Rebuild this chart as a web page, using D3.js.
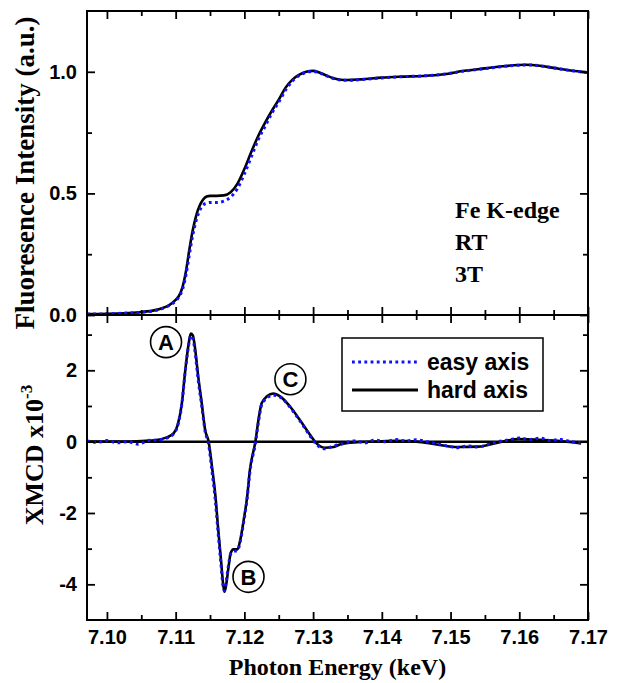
<!DOCTYPE html>
<html>
<head>
    <meta charset="utf-8">
    <title>Fe K-edge XANES / XMCD</title>
    <style>
        body { margin: 0; background: #fff; }
    </style>
</head>
<body>
<div id='plot'></div>
<script src="https://cdn.jsdelivr.net/npm/d3@7"></script>
<script>

    // XANES (upper panel)
    let xasEnergy = [7.0971, 7.100, 7.103, 7.105, 7.107, 7.108, 7.109, 7.110, 7.1105, 7.111, 7.1115, 7.112, 7.1125,
        7.113, 7.1135, 7.114, 7.1145, 7.115, 7.116, 7.117, 7.118, 7.119, 7.120, 7.121, 7.122, 7.123, 7.124, 7.125,
        7.126, 7.127, 7.128, 7.129, 7.130, 7.131, 7.132, 7.133, 7.134, 7.135, 7.137, 7.140, 7.143, 7.146, 7.149,
        7.152, 7.155, 7.158, 7.161, 7.163, 7.165, 7.1675, 7.170];
    let xasHard = [0.004, 0.005, 0.008, 0.012, 0.02, 0.028, 0.04, 0.062, 0.08, 0.115, 0.18, 0.27, 0.35,
        0.41, 0.45, 0.475, 0.487, 0.49, 0.49, 0.492, 0.505, 0.54, 0.6, 0.67, 0.735, 0.79, 0.84, 0.885,
        0.935, 0.968, 0.988, 1.0, 1.004, 0.996, 0.984, 0.973, 0.967, 0.966, 0.969, 0.976, 0.98, 0.983, 0.99,
        1.004, 1.014, 1.024, 1.029, 1.025, 1.016, 1.005, 0.997];
    let xasEasy = [0.004, 0.005, 0.008, 0.011, 0.018, 0.026, 0.038, 0.058, 0.075, 0.105, 0.165, 0.25, 0.33,
        0.39, 0.43, 0.452, 0.46, 0.463, 0.463, 0.468, 0.485, 0.52, 0.58, 0.65, 0.72, 0.775, 0.83, 0.875,
        0.925, 0.962, 0.985, 0.998, 1.002, 0.995, 0.983, 0.972, 0.966, 0.965, 0.968, 0.975, 0.98, 0.983, 0.99,
        1.003, 1.013, 1.023, 1.028, 1.025, 1.016, 1.005, 0.997];

    // XMCD x10^-3 (lower panel)
    let mcdHardEnergy = [7.0971, 7.100, 7.103, 7.105, 7.107, 7.1087, 7.1097, 7.1103, 7.1109, 7.1114, 7.1119, 7.1122,
        7.1125, 7.1128, 7.1133, 7.1138, 7.1143, 7.1148, 7.1153, 7.1158, 7.1162, 7.1166, 7.1169, 7.1171, 7.1173,
        7.1177, 7.118, 7.1184, 7.119, 7.1194, 7.1199, 7.1204, 7.1208, 7.1216, 7.1221, 7.1225, 7.1233, 7.1242,
        7.1252, 7.1267, 7.1281, 7.1296, 7.1305, 7.1317, 7.133, 7.134, 7.136, 7.139, 7.142, 7.145, 7.148, 7.151,
        7.154, 7.157, 7.160, 7.163, 7.166, 7.169];
    let mcdHard = [0.0, 0.0, 0.0, 0.02, 0.04, 0.12, 0.23, 0.47, 1.07, 2.0, 2.75, 3.03,
        2.98, 2.65, 1.8, 1.07, 0.32, 0.0, -0.72, -1.55, -2.48, -3.32, -3.98, -4.21, -4.07,
        -3.51, -3.13, -3.02, -3.02, -2.76, -2.2, -1.55, -0.8, 0.0, 0.67, 1.07, 1.27, 1.35,
        1.27, 0.97, 0.6, 0.18, -0.05, -0.17, -0.15, -0.07, -0.02, 0.0, 0.02, 0.0, -0.08, -0.15,
        -0.14, -0.02, 0.07, 0.05, 0.02, -0.05];

    let mcdEasyEnergy = [7.0971, 7.0985, 7.100, 7.1015, 7.103, 7.1045, 7.106, 7.1075, 7.1087, 7.1097, 7.1103,
        7.1109, 7.1114, 7.1119, 7.1122, 7.1125, 7.1128, 7.1133, 7.1138, 7.1143, 7.1148, 7.1153, 7.1158, 7.1162,
        7.1166, 7.1169, 7.1171, 7.1173, 7.1177, 7.118, 7.1184, 7.119, 7.1194, 7.1199, 7.1204, 7.1208, 7.1216,
        7.1221, 7.1225, 7.1233, 7.1242, 7.1252, 7.1267, 7.1281, 7.1296, 7.1305, 7.1317, 7.133, 7.1345, 7.136,
        7.1375, 7.139, 7.1405, 7.142, 7.1435, 7.145, 7.1465, 7.148, 7.1495, 7.151, 7.1525, 7.154, 7.1555,
        7.157, 7.1585, 7.160, 7.1615, 7.163, 7.1645, 7.166, 7.1675, 7.169];
    let mcdEasy = [0.02, -0.02, 0.03, -0.03, 0.0, -0.07, 0.03, 0.05, 0.1, 0.22, 0.45,
        1.05, 1.98, 2.72, 2.97, 2.9, 2.55, 1.7, 1.0, 0.28, -0.08, -0.85, -1.7, -2.6,
        -3.45, -4.05, -4.18, -4.0, -3.45, -3.15, -3.08, -3.05, -2.8, -2.25, -1.6, -0.85, -0.05,
        0.62, 1.02, 1.22, 1.3, 1.25, 0.95, 0.58, 0.15, -0.08, -0.2, -0.12, -0.05, 0.02,
        -0.03, 0.04, 0.0, 0.06, 0.02, 0.05, 0.0, -0.06, -0.12, -0.17, -0.12, -0.15, -0.08,
        0.0, 0.05, 0.1, 0.06, 0.1, 0.03, 0.06, 0.0, -0.03];

    // ticks
    let xMajorTicks = [7.10, 7.11, 7.12, 7.13, 7.14, 7.15, 7.16, 7.17];
    let xMinorTicks = [7.105, 7.115, 7.125, 7.135, 7.145, 7.155, 7.165];
    let xTickLabels = ['7.10', '7.11', '7.12', '7.13', '7.14', '7.15', '7.16', '7.17'];
    let upMajorTicks = [0, 0.5, 1.0];
    let upMinorTicks = [0.25, 0.75];
    let upTickLabels = ['0.0', '0.5', '1.0'];
    let lowMajorTicks = [-4, -2, 0, 2];
    let lowMinorTicks = [-3, -1, 1, 3];
    let lowTickLabels = ['-4', '-2', '0', '2'];

    // peak labels
    let peakNames = ['A', 'B', 'C'];
    let peakEnergy = [7.1086, 7.1206, 7.1267];
    let peakValue = [2.79, -3.79, 1.75];

    let seriesNames = ['easy axis', 'hard axis'];
    let sampleText = ['Fe K-edge', 'RT', '3T'];

    let svgWidth = 620;
    let svgHeight = 683;
    let margin = {top: 11, right: 32, bottom: 63, left: 87};
    let width = svgWidth - margin.left - margin.right;
    let splitY = 304;          // height of upper panel
    let height = svgHeight - margin.top - margin.bottom;

    function translate(x, y) {
        return 'translate(' + x + ',' + y + ')';
    }

    let svg = d3.select('#plot')
        .append('svg')
        .attr('width', svgWidth)
        .attr('height', svgHeight)
        .append('g')
        .attr('transform', translate(margin.left, margin.top));

    let x = d3.scaleLinear().domain([7.0971, 7.17]).range([0, width]);
    let yUp = d3.scaleLinear().domain([0, 1.25]).range([splitY, 0]);
    let yLow = d3.scaleLinear().domain([-5, 3.55]).range([height, splitY]);

    let blue = '#1010ff';
    let tickFont = 'Liberation Sans, Arial, sans-serif';
    let titleFont = 'Liberation Serif, Times New Roman, serif';

    // clip paths
    let defs = svg.append('defs');
    defs.append('clipPath').attr('id', 'clipUp')
        .append('rect').attr('width', width).attr('height', splitY);
    defs.append('clipPath').attr('id', 'clipLow')
        .append('rect').attr('y', splitY).attr('width', width).attr('height', height - splitY);

    // zero line in lower panel
    svg.append('line')
        .attr('x1', 0).attr('x2', width)
        .attr('y1', yLow(0)).attr('y2', yLow(0))
        .attr('stroke', '#000').attr('stroke-width', 2.5);

    function drawLine(energy, values, yScale, clip, color, dashed) {
        let line = d3.line()
            .x((d, i) => x(energy[i]))
            .y(d => yScale(d))
            .curve(d3.curveMonotoneX);
        svg.append('path')
            .datum(values)
            .attr('clip-path', 'url(#' + clip + ')')
            .attr('fill', 'none')
            .attr('stroke', color)
            .attr('stroke-width', dashed ? 3 : 2.6)
            .attr('stroke-dasharray', dashed ? '2.8 3.4' : null)
            .attr('d', line);
    }

    drawLine(xasEnergy, xasHard, yUp, 'clipUp', '#000', false);
    drawLine(xasEnergy, xasEasy, yUp, 'clipUp', blue, true);
    drawLine(mcdHardEnergy, mcdHard, yLow, 'clipLow', '#000', false);
    drawLine(mcdEasyEnergy, mcdEasy, yLow, 'clipLow', blue, true);

    // axes
    function styleAxis(g) {
        g.select('.domain').remove();
        g.selectAll('.tick line').attr('stroke', '#000').attr('stroke-width', 1.8);
        g.selectAll('.tick text')
            .attr('fill', '#000')
            .style('font-family', tickFont)
            .style('font-weight', 'bold')
            .style('font-size', '20px');
    }

    function addAxis(axisFn, scale, pos, majors, minors, labels) {
        let lab = labels ? (d, i) => labels[i] : () => '';
        svg.append('g').attr('transform', pos)
            .call(axisFn(scale).tickValues(majors).tickSize(-8).tickPadding(10).tickFormat(lab))
            .call(styleAxis);
        svg.append('g').attr('transform', pos)
            .call(axisFn(scale).tickValues(minors).tickSize(-5).tickFormat(() => ''))
            .call(styleAxis);
    }

    // x axes
    addAxis(d3.axisBottom, x, translate(0, height), xMajorTicks, xMinorTicks, xTickLabels);
    addAxis(d3.axisBottom, x, translate(0, splitY), xMajorTicks, xMinorTicks, null);
    addAxis(d3.axisTop, x, translate(0, splitY), xMajorTicks, xMinorTicks, null);
    addAxis(d3.axisTop, x, translate(0, 0), xMajorTicks, xMinorTicks, null);

    // y axes
    addAxis(d3.axisLeft, yUp, translate(0, 0), upMajorTicks, upMinorTicks, upTickLabels);
    addAxis(d3.axisRight, yUp, translate(width, 0), upMajorTicks, upMinorTicks, null);
    addAxis(d3.axisLeft, yLow, translate(0, 0), lowMajorTicks, lowMinorTicks, lowTickLabels);
    addAxis(d3.axisRight, yLow, translate(width, 0), lowMajorTicks, lowMinorTicks, null);

    // frames
    svg.append('rect')
        .attr('width', width).attr('height', height)
        .attr('fill', 'none').attr('stroke', '#000').attr('stroke-width', 2);
    svg.append('line')
        .attr('x1', 0).attr('x2', width).attr('y1', splitY).attr('y2', splitY)
        .attr('stroke', '#000').attr('stroke-width', 2);

    // axis titles
    svg.append('text')
        .attr('x', width / 2).attr('y', 664)
        .attr('text-anchor', 'middle')
        .style('font-family', titleFont).style('font-weight', 'bold').style('font-size', '24px')
        .text('Photon Energy (keV)');

    svg.append('text')
        .attr('transform', translate(34 - margin.left, 162) + ' rotate(-90)')
        .attr('text-anchor', 'middle')
        .style('font-family', titleFont).style('font-weight', 'bold').style('font-size', '27px')
        .text('Fluoresence Intensity (a.u.)');

    let lowTitle = svg.append('text')
        .attr('transform', translate(43 - margin.left, 444) + ' rotate(-90)')
        .attr('text-anchor', 'middle')
        .style('font-family', titleFont).style('font-weight', 'bold').style('font-size', '26px');
    lowTitle.append('tspan').text('XMCD x10');
    lowTitle.append('tspan').attr('dy', -11).style('font-size', '17px').text('-3');

    // sample info
    svg.selectAll('.info')
        .data(sampleText)
        .enter()
        .append('text')
        .attr('x', 455 - margin.left)
        .attr('y', (d, i) => 207 + i * 32)
        .style('font-family', titleFont).style('font-weight', 'bold').style('font-size', '24px')
        .text(d => d);

    // peak markers
    let peaks = svg.selectAll('.peak')
        .data(peakNames)
        .enter()
        .append('g')
        .attr('transform', (d, i) => translate(x(peakEnergy[i]), yLow(peakValue[i])));
    peaks.append('circle')
        .attr('r', 15.5)
        .attr('fill', 'none').attr('stroke', '#000').attr('stroke-width', 1.6);
    peaks.append('text')
        .attr('text-anchor', 'middle').attr('dy', '0.36em')
        .style('font-family', tickFont).style('font-weight', 'bold').style('font-size', '22px')
        .text(d => d);

    // legend
    let legend = svg.append('g').attr('transform', translate(342 - margin.left, 338 - margin.top));
    legend.append('rect')
        .attr('width', 201).attr('height', 73)
        .attr('fill', '#fff').attr('stroke', '#000').attr('stroke-width', 1.5);
    let item = legend.selectAll('.item')
        .data(seriesNames)
        .enter()
        .append('g')
        .attr('transform', (d, i) => translate(0, 24 + i * 28));
    item.append('line')
        .attr('x1', 10).attr('x2', 76)
        .attr('stroke', (d, i) => i === 0 ? blue : '#000')
        .attr('stroke-width', (d, i) => i === 0 ? 3 : 3)
        .attr('stroke-dasharray', (d, i) => i === 0 ? '2.8 3.4' : null);
    item.append('text')
        .attr('x', 85).attr('dy', '0.35em')
        .style('font-family', tickFont).style('font-weight', 'bold').style('font-size', '23px')
        .text(d => d);

</script>
</body>
</html>
